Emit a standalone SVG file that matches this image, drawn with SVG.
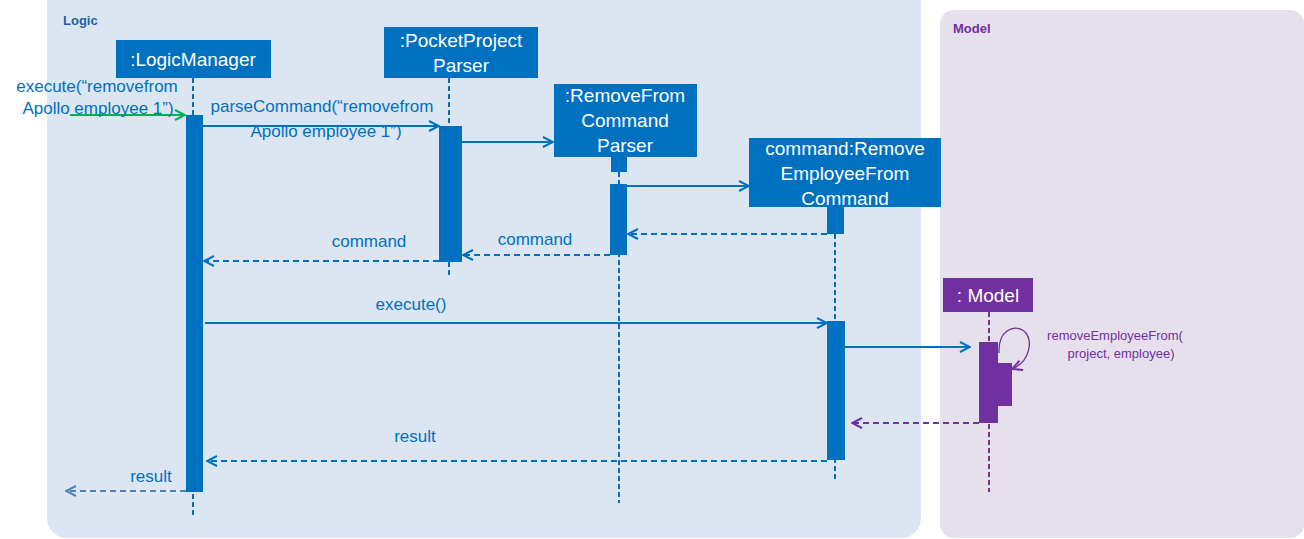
<svg xmlns="http://www.w3.org/2000/svg" width="1304" height="539" viewBox="0 0 1304 539">
<style>
text{font-family:"Liberation Sans",Arial,sans-serif}
.bt{fill:#0070C0;font-size:17px}
.nt{fill:#fff;font-size:19px;text-anchor:middle}
.box{fill:#0070C0}
.pbox{fill:#7030A0}
.ll{stroke:#0070C0;stroke-width:2;stroke-dasharray:5,3;fill:none}
.pll{stroke:#7030A0;stroke-width:2;stroke-dasharray:5,3;fill:none}
.msg{stroke:#0070C0;stroke-width:2;fill:none;marker-end:url(#ab)}
.ret{stroke:#0070C0;stroke-width:2;stroke-dasharray:6,4;fill:none;marker-end:url(#ab)}
.pt{fill:#7030A0;font-size:13px;text-anchor:middle}
</style>
<defs>
<marker id="ab" viewBox="0 0 12 12" refX="11" refY="6" markerWidth="12" markerHeight="12" markerUnits="userSpaceOnUse" orient="auto"><path d="M1,1 L11,6 L1,11" fill="none" stroke="#0070C0" stroke-width="2"/></marker>
<marker id="ag" viewBox="0 0 12 12" refX="11" refY="6" markerWidth="12" markerHeight="12" markerUnits="userSpaceOnUse" orient="auto"><path d="M1,1 L11,6 L1,11" fill="none" stroke="#00B050" stroke-width="2"/></marker>
<marker id="ap" viewBox="0 0 12 12" refX="11" refY="6" markerWidth="12" markerHeight="12" markerUnits="userSpaceOnUse" orient="auto"><path d="M1,1 L11,6 L1,11" fill="none" stroke="#7030A0" stroke-width="2"/></marker>
<marker id="al" viewBox="0 0 12 12" refX="11" refY="6" markerWidth="12" markerHeight="12" markerUnits="userSpaceOnUse" orient="auto"><path d="M1,1 L11,6 L1,11" fill="none" stroke="#4F81BD" stroke-width="2"/></marker>
</defs>
<g id="frame-logic">
<rect x="47" y="-20" width="874" height="558" rx="20" fill="#DCE6F2"/>
<text x="63" y="25" font-size="13" font-weight="bold" fill="#1F5FA8">Logic</text>
</g>
<g id="frame-model">
<rect x="940" y="10" width="364" height="528" rx="14" fill="#E6E0EC"/>
<text x="953" y="33" font-size="13" font-weight="bold" fill="#7030A0">Model</text>
</g>
<g id="lifelines">
<line class="ll" x1="193" y1="78" x2="193" y2="515"/>
<line class="ll" x1="449" y1="78" x2="449" y2="278"/>
<line class="ll" x1="619" y1="172" x2="619" y2="503"/>
<line class="ll" x1="835" y1="234" x2="835" y2="482"/>
<line class="pll" x1="989" y1="312" x2="989" y2="492"/>
</g>
<g id="logicmanager">
<rect class="box" x="116" y="40" width="155" height="38"/>
<text class="nt" x="193" y="66">:LogicManager</text>
<rect class="box" x="186" y="115" width="17" height="377"/>
</g>
<g id="pocketprojectparser">
<rect class="box" x="384" y="27" width="154" height="51"/>
<text class="nt" x="461" y="47">:PocketProject</text>
<text class="nt" x="461" y="72">Parser</text>
<rect class="box" x="439" y="126" width="23" height="136"/>
</g>
<g id="removefromcommandparser">
<rect class="box" x="554" y="84" width="143" height="73"/>
<text class="nt" x="625" y="102">:RemoveFrom</text>
<text class="nt" x="625" y="127">Command</text>
<text class="nt" x="625" y="152">Parser</text>
<rect class="box" x="611" y="157" width="16" height="15"/>
<rect class="box" x="610" y="184" width="17" height="71"/>
</g>
<g id="removeemployeefromcommand">
<rect class="box" x="749" y="138" width="192" height="69"/>
<text class="nt" x="845" y="155">command:Remove</text>
<text class="nt" x="845" y="180">EmployeeFrom</text>
<text class="nt" x="845" y="205">Command</text>
<rect class="box" x="827" y="207" width="17" height="27"/>
<rect class="box" x="827" y="321" width="18" height="139"/>
</g>
<g id="model">
<rect class="pbox" x="943" y="278" width="90" height="34"/>
<text class="nt" x="988" y="302">: Model</text>
<rect class="pbox" x="979" y="342" width="19" height="81"/>
<rect class="pbox" x="990" y="363" width="22" height="43"/>
</g>
<g id="connectors">
<line x1="70" y1="115" x2="185" y2="115" stroke="#00B050" stroke-width="2" marker-end="url(#ag)"/>
<line class="msg" x1="203" y1="126" x2="439" y2="126"/>
<line class="msg" x1="462" y1="142" x2="553" y2="142"/>
<line class="msg" x1="627" y1="186" x2="749" y2="186"/>
<line class="ret" x1="827" y1="234" x2="628" y2="234"/>
<line class="ret" x1="610" y1="255" x2="463" y2="255"/>
<line class="ret" x1="439" y1="261" x2="204" y2="261"/>
<line class="msg" x1="205" y1="323" x2="827" y2="323"/>
<line class="msg" x1="845" y1="347" x2="970" y2="347"/>
<path d="M999,353 C998,330 1014,324 1024,331 C1034,339 1030,362 1012,369" stroke="#7030A0" stroke-width="1.3" fill="none" marker-end="url(#ap)"/>
<line x1="979" y1="423" x2="852" y2="423" stroke="#7030A0" stroke-width="2" stroke-dasharray="6,4" marker-end="url(#ap)"/>
<line class="ret" x1="827" y1="461" x2="207" y2="461"/>
<line x1="186" y1="491" x2="66" y2="491" stroke="#4F81BD" stroke-width="2" stroke-dasharray="6,4" marker-end="url(#al)"/>
</g>
<g id="labels">
<text class="bt" x="97" y="92" text-anchor="middle">execute(“removefrom</text>
<text class="bt" x="98" y="114" text-anchor="middle">Apollo employee 1”)</text>
<text class="bt" x="322" y="112" text-anchor="middle">parseCommand(“removefrom</text>
<text class="bt" x="326" y="137" text-anchor="middle">Apollo employee 1”)</text>
<text class="bt" x="369" y="247" text-anchor="middle">command</text>
<text class="bt" x="535" y="245" text-anchor="middle">command</text>
<text class="bt" x="411" y="310" text-anchor="middle">execute()</text>
<text class="pt" x="1115" y="340">removeEmployeeFrom(</text>
<text class="pt" x="1121" y="358">project, employee)</text>
<text class="bt" x="415" y="442" text-anchor="middle">result</text>
<text class="bt" x="151" y="482" text-anchor="middle">result</text>
</g>
</svg>
